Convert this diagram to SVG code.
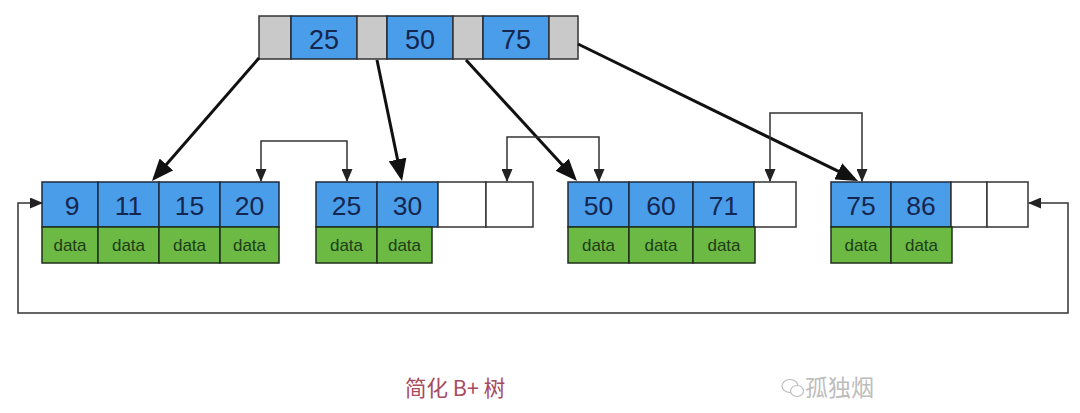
<svg xmlns="http://www.w3.org/2000/svg" width="1080" height="413" viewBox="0 0 1080 413">
<style>
.g{fill:#c9c9c9;stroke:#333;stroke-width:1.5}
.b{fill:#4a9de9;stroke:#1f2a3a;stroke-width:1.5}
.d{fill:#6cb944;stroke:#1f2f1a;stroke-width:1.5}
.e{fill:#fff;stroke:#333;stroke-width:1.5}
.n{font-family:"Liberation Sans",Arial,sans-serif;font-size:26.5px;fill:#15264f;text-anchor:middle}
.t{font-family:"Liberation Sans",Arial,sans-serif;font-size:17px;fill:#1d3d16;text-anchor:middle}
.thick{fill:none;stroke:#111;stroke-width:3}
.thin{fill:none;stroke:#333;stroke-width:1.5}
</style>
<defs>
<marker id="big" markerUnits="userSpaceOnUse" markerWidth="22" markerHeight="18" viewBox="0 0 22 18" refX="18" refY="9" orient="auto">
<path d="M0,0 L22,9 L0,18 z" fill="#111"/>
</marker>
<marker id="small" markerUnits="userSpaceOnUse" markerWidth="13" markerHeight="11" viewBox="0 0 13 11" refX="12" refY="5.5" orient="auto-start-reverse">
<path d="M0,0 L13,5.5 L0,11 z" fill="#222"/>
</marker>
</defs>
<rect width="1080" height="413" fill="#fff"/>

<g id="root">
<rect class="g" x="259" y="16" width="32" height="43"/>
<rect class="b" x="291" y="16" width="66" height="43"/>
<rect class="g" x="357" y="16" width="30" height="43"/>
<rect class="b" x="387" y="16" width="66" height="43"/>
<rect class="g" x="453" y="16" width="30" height="43"/>
<rect class="b" x="483" y="16" width="66" height="43"/>
<rect class="g" x="549" y="16" width="29" height="43"/>
<text class="n" x="324" y="49" style="font-size:27px">25</text>
<text class="n" x="420" y="49" style="font-size:27px">50</text>
<text class="n" x="516" y="49" style="font-size:27px">75</text>
</g>

<g id="leaf1">
<rect class="b" x="42" y="182" width="56" height="45"/>
<rect class="b" x="98" y="182" width="61" height="45"/>
<rect class="b" x="159" y="182" width="61" height="45"/>
<rect class="b" x="220" y="182" width="59" height="45"/>
<rect class="d" x="42" y="227" width="56" height="36"/>
<rect class="d" x="98" y="227" width="61" height="36"/>
<rect class="d" x="159" y="227" width="61" height="36"/>
<rect class="d" x="220" y="227" width="59" height="36"/>
<text class="n" x="72" y="215">9</text>
<text class="n" x="128.5" y="215">11</text>
<text class="n" x="189.5" y="215">15</text>
<text class="n" x="249.5" y="215">20</text>
<text class="t" x="70" y="251">data</text>
<text class="t" x="128.5" y="251">data</text>
<text class="t" x="189.5" y="251">data</text>
<text class="t" x="249.5" y="251">data</text>
</g>

<g id="leaf2">
<rect class="b" x="316" y="182" width="61" height="45"/>
<rect class="b" x="377" y="182" width="61" height="45"/>
<rect class="e" x="438" y="182" width="48" height="45"/>
<rect class="e" x="486" y="182" width="47" height="45"/>
<rect class="d" x="316" y="227" width="61" height="36"/>
<rect class="d" x="377" y="227" width="55" height="36"/>
<text class="n" x="346.5" y="215">25</text>
<text class="n" x="407.5" y="215">30</text>
<text class="t" x="346.5" y="251">data</text>
<text class="t" x="404.5" y="251">data</text>
</g>

<g id="leaf3">
<rect class="b" x="568" y="182" width="61" height="45"/>
<rect class="b" x="629" y="182" width="64" height="45"/>
<rect class="b" x="693" y="182" width="61" height="45"/>
<rect class="e" x="754" y="182" width="42" height="45"/>
<rect class="d" x="568" y="227" width="61" height="36"/>
<rect class="d" x="629" y="227" width="64" height="36"/>
<rect class="d" x="693" y="227" width="62" height="36"/>
<text class="n" x="598.5" y="215">50</text>
<text class="n" x="661" y="215">60</text>
<text class="n" x="723.5" y="215">71</text>
<text class="t" x="598.5" y="251">data</text>
<text class="t" x="661" y="251">data</text>
<text class="t" x="724" y="251">data</text>
</g>

<g id="leaf4">
<rect class="b" x="831" y="182" width="60" height="45"/>
<rect class="b" x="891" y="182" width="60" height="45"/>
<rect class="e" x="951" y="182" width="36" height="45"/>
<rect class="e" x="987" y="182" width="41" height="45"/>
<rect class="d" x="831" y="227" width="60" height="36"/>
<rect class="d" x="891" y="227" width="61" height="36"/>
<text class="n" x="861" y="215">75</text>
<text class="n" x="921" y="215">86</text>
<text class="t" x="861" y="251">data</text>
<text class="t" x="921.5" y="251">data</text>
</g>

<g id="connectors">
<line class="thick" x1="259" y1="58" x2="154.6" y2="178" marker-end="url(#big)"/>
<line class="thick" x1="377" y1="60" x2="401.2" y2="177.1" marker-end="url(#big)"/>
<line class="thick" x1="466" y1="60" x2="574.3" y2="178" marker-end="url(#big)"/>
<line class="thick" x1="578" y1="44" x2="854.4" y2="179.2" marker-end="url(#big)"/>
<path class="thin" d="M261,181 V141 H347 V181" marker-start="url(#small)" marker-end="url(#small)"/>
<path class="thin" d="M507,181 V137 H599 V181" marker-start="url(#small)" marker-end="url(#small)"/>
<path class="thin" d="M770,181 V113 H862 V181" marker-start="url(#small)" marker-end="url(#small)"/>
<path class="thin" d="M1029,203 H1068 V313 H18 V203 H42" marker-start="url(#small)" marker-end="url(#small)"/>
</g>

<text x="405" y="396" style="font-family:'Noto Sans CJK SC','Noto Sans',sans-serif;font-size:21.5px;fill:#a84a5e">简化 B+ 树</text>
<g id="watermark" fill="none" stroke="#bbb" stroke-width="1.2">
<ellipse cx="790" cy="386" rx="8" ry="6.5"/>
<ellipse cx="797" cy="391" rx="6.5" ry="5.5" fill="#fff"/>
</g>
<text x="805" y="396" style="font-family:'Noto Sans CJK SC',sans-serif;font-size:23px;fill:#bdbdbd">孤独烟</text>
</svg>
